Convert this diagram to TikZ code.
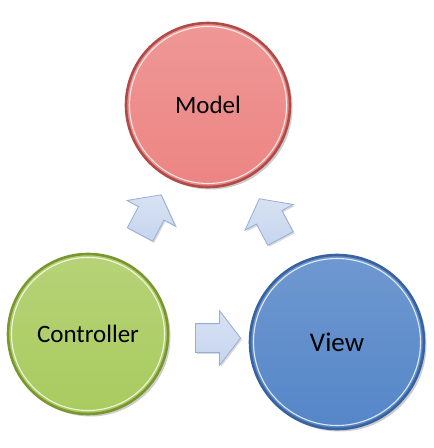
\documentclass[tikz,border=0pt]{standalone}
\usepackage{fontspec}
\setmainfont{Carlito}
\usetikzlibrary{calc,shadows,shapes.arrows}

\definecolor{modelfill}{HTML}{EC8583}
\definecolor{modelrim}{HTML}{B04B48}
\definecolor{ctrlfill}{HTML}{A9CB5F}
\definecolor{ctrlrim}{HTML}{7A972F}
\definecolor{viewfill}{HTML}{5586C8}
\definecolor{viewrim}{HTML}{3862A0}
\definecolor{arrowfill}{HTML}{C6D5EE}
\definecolor{arrowline}{HTML}{97AED4}

\tikzset{
  bubble/.style n args={3}{circle, minimum size=2*#1, inner sep=0pt,
    draw=#2, line width=2.6pt, top color=#3!85!white, bottom color=#3,
    drop shadow={shadow xshift=2.5pt, shadow yshift=-2.5pt, opacity=.4},
    path picture={\draw[white, line width=1.1pt, opacity=.8]
      (path picture bounding box.center) circle (#1-3.5);},
    font=\fontsize{25}{30}\selectfont},
  blockarrow/.style={single arrow, draw=arrowline, line width=0.8pt,
    top color=arrowfill!70!white, bottom color=arrowfill,
    minimum height=45pt, inner xsep=0pt, inner ysep=14pt,
    single arrow head extend=13pt, single arrow tip angle=105,
    drop shadow={shadow xshift=1.5pt, shadow yshift=-1.5pt, opacity=.3}}
}

\begin{document}
\begin{tikzpicture}[x=1pt,y=-1pt]

\useasboundingbox (0,0) rectangle (434,448);

% Circles
\node[bubble={82}{modelrim}{modelfill}] (model) at (208,105) {Model};
\node[bubble={80}{ctrlrim}{ctrlfill}] (ctrl) at (88,334) {Controller};
\node[bubble={87}{viewrim}{viewfill}] (view) at (337,342) {\fontsize{27}{32}\selectfont View};

% Block arrows between the circles
\node[blockarrow, rotate=62] (c2m) at ($(ctrl)!0.5!(model)$) {};
\node[blockarrow, rotate=118] (v2m) at ($(view)!0.5!(model)$) {};
\node[blockarrow] (c2v) at ($(ctrl)!0.5!(view)$) {};

\end{tikzpicture}
\end{document}
